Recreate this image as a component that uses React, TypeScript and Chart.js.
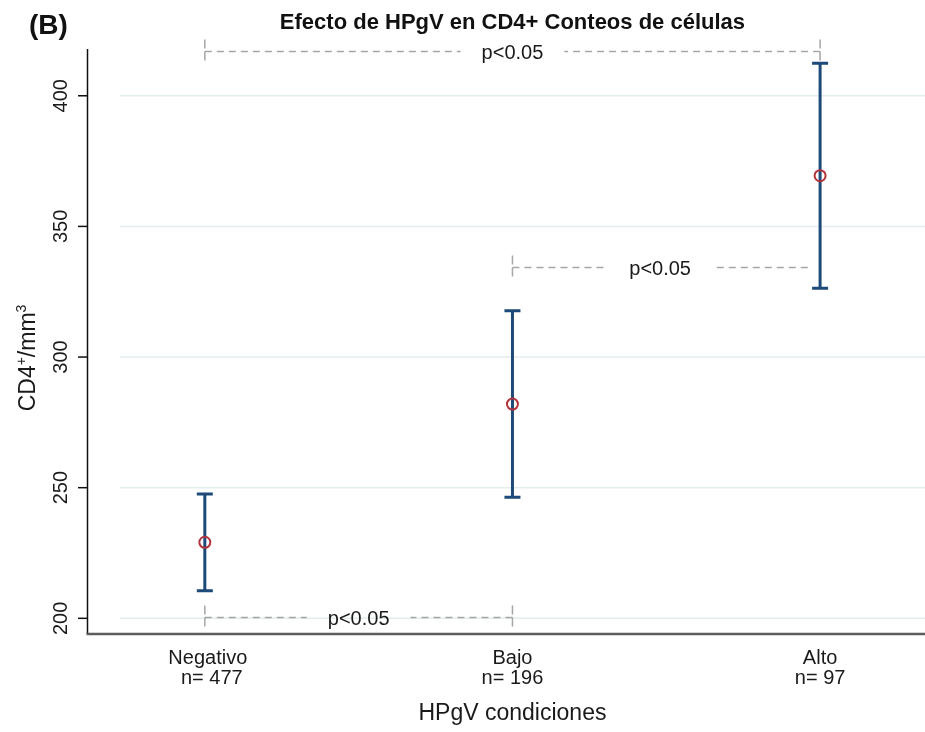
import React, { useEffect, useRef } from "react";
import { Chart, registerables } from "chart.js";

Chart.register(...registerables);

const categories = ["Negativo", "Bajo", "Alto"];
const nLabels = ["n= 477", "n= 196", "n= 97"];
const means = [229.1, 282.0, 369.4];
const lowerCI = [210.6, 246.3, 326.3];
const upperCI = [247.6, 317.7, 412.4];
const yTicks = [200, 250, 300, 350, 400];
const bracketFrom = [0, 1, 0];
const bracketTo = [2, 1.96, 1];
const bracketLevel = [417.2, 334.6, 200.6];
const bracketLabels = ["p<0.05", "p<0.05", "p<0.05"];
const bracketTickLeft = [true, true, true];
const bracketTickRight = [true, false, true];

const chartTitle = "Efecto de HPgV en CD4+ Conteos de células";
const panelLabel = "(B)";
const xTitle = "HPgV condiciones";

const FONT = "'Liberation Sans', Arial, sans-serif";
const BAR_COLOR = "#1d4a78";
const MARK_COLOR = "#b3333d";
const GRID_COLOR = "#e3edf0";
const DASH_COLOR = "#a6a6a6";

const drawPlugin = {
  id: "statadraw",
  beforeDatasetsDraw(chart: any) {
    const ctx = chart.ctx;
    const xs = chart.scales.x;
    const ys = chart.scales.y;
    const area = chart.chartArea;
    ctx.save();
    ctx.strokeStyle = GRID_COLOR;
    ctx.lineWidth = 1.5;
    yTicks.forEach((t) => {
      const y = ys.getPixelForValue(t);
      ctx.beginPath();
      ctx.moveTo(120, y);
      ctx.lineTo(area.right, y);
      ctx.stroke();
    });
    ctx.strokeStyle = BAR_COLOR;
    ctx.lineWidth = 3;
    ctx.lineCap = "butt";
    categories.forEach((_, i) => {
      const x = xs.getPixelForValue(i);
      const yl = ys.getPixelForValue(lowerCI[i]);
      const yu = ys.getPixelForValue(upperCI[i]);
      ctx.beginPath();
      ctx.moveTo(x, yl);
      ctx.lineTo(x, yu);
      ctx.stroke();
      ctx.beginPath();
      ctx.moveTo(x - 8, yl);
      ctx.lineTo(x + 8, yl);
      ctx.moveTo(x - 8, yu);
      ctx.lineTo(x + 8, yu);
      ctx.stroke();
    });
    ctx.restore();
  },
  afterDraw(chart: any) {
    const ctx = chart.ctx;
    const xs = chart.scales.x;
    const ys = chart.scales.y;
    const area = chart.chartArea;
    ctx.save();
    ctx.font = `20px ${FONT}`;
    bracketFrom.forEach((f, i) => {
      const x1 = xs.getPixelForValue(f);
      const x2 = xs.getPixelForValue(bracketTo[i]);
      const y = Math.round(ys.getPixelForValue(bracketLevel[i])) + 0.5;
      const cx = (x1 + x2) / 2;
      const tw = ctx.measureText(bracketLabels[i]).width;
      const gapL = cx - tw / 2 - 21;
      const gapR = cx + tw / 2 + 21;
      ctx.strokeStyle = DASH_COLOR;
      ctx.lineWidth = 1.5;
      ctx.setLineDash([7, 5]);
      ctx.beginPath();
      ctx.moveTo(x1, y);
      ctx.lineTo(gapL, y);
      ctx.moveTo(x2, y);
      ctx.lineTo(gapR, y);
      ctx.stroke();
      ctx.setLineDash([9, 3]);
      ctx.beginPath();
      if (bracketTickLeft[i]) {
        ctx.moveTo(x1, y - 12);
        ctx.lineTo(x1, y + 12);
      }
      if (bracketTickRight[i]) {
        ctx.moveTo(x2, y - 12);
        ctx.lineTo(x2, y + 12);
      }
      ctx.stroke();
      ctx.setLineDash([]);
      ctx.fillStyle = "#1a1a1a";
      ctx.textAlign = "center";
      ctx.textBaseline = "alphabetic";
      ctx.fillText(bracketLabels[i], cx, y + 7);
    });

    ctx.strokeStyle = "#111";
    ctx.lineWidth = 1.5;
    ctx.beginPath();
    ctx.moveTo(87.5, area.top);
    ctx.lineTo(87.5, area.bottom);
    ctx.stroke();
    yTicks.forEach((t) => {
      const y = ys.getPixelForValue(t);
      ctx.beginPath();
      ctx.moveTo(78, y);
      ctx.lineTo(87.5, y);
      ctx.stroke();
      ctx.save();
      ctx.translate(67, y);
      ctx.rotate(-Math.PI / 2);
      ctx.font = `20px ${FONT}`;
      ctx.fillStyle = "#1a1a1a";
      ctx.textAlign = "center";
      ctx.textBaseline = "alphabetic";
      ctx.fillText(String(t), 0, 0);
      ctx.restore();
    });
    ctx.strokeStyle = "#5c5c5c";
    ctx.lineWidth = 2.5;
    ctx.beginPath();
    ctx.moveTo(86.5, area.bottom);
    ctx.lineTo(area.right, area.bottom);
    ctx.stroke();
    ctx.fillStyle = "#1a1a1a";
    ctx.font = `20px ${FONT}`;
    ctx.textAlign = "center";
    categories.forEach((c, i) => {
      const x = xs.getPixelForValue(i);
      ctx.fillText(c, x + (i === 0 ? 3 : 0), 664);
      ctx.fillText(nLabels[i], x + (i === 0 ? 7 : 0), 684);
    });
    ctx.font = `23px ${FONT}`;
    ctx.fillText(xTitle, xs.getPixelForValue(1), 720);
    ctx.save();
    ctx.translate(35, 358);
    ctx.rotate(-Math.PI / 2);
    const parts: [string, boolean][] = [["CD4", false], ["+", true], ["/mm", false], ["3", true]];
    const widths = parts.map(([s, sup]) => {
      ctx.font = sup ? `14px ${FONT}` : `23px ${FONT}`;
      return ctx.measureText(s).width;
    });
    const total = widths.reduce((a, b) => a + b, 0);
    let px = -total / 2;
    ctx.textAlign = "left";
    parts.forEach(([s, sup], k) => {
      ctx.font = sup ? `14px ${FONT}` : `23px ${FONT}`;
      ctx.fillText(s, px, sup ? -9 : 0);
      px += widths[k];
    });
    ctx.restore();
    ctx.font = `bold 22px ${FONT}`;
    ctx.textAlign = "center";
    ctx.fillStyle = "#111";
    ctx.fillText(chartTitle, xs.getPixelForValue(1), 29);
    ctx.font = `bold 28px ${FONT}`;
    ctx.textAlign = "left";
    ctx.fillText(panelLabel, 29, 34);
    ctx.restore();
  },
};

export default function App() {
  const ref = useRef<HTMLCanvasElement | null>(null);
  useEffect(() => {
    const canvas = ref.current;
    if (!canvas) return;
    const chart = new Chart(canvas, {
      type: "scatter",
      data: {
        datasets: [
          {
            data: means.map((m, i) => ({ x: i, y: m })),
            pointStyle: "circle",
            pointRadius: 5.5,
            pointBorderWidth: 2,
            pointBorderColor: MARK_COLOR,
            pointBackgroundColor: "rgba(0,0,0,0)",
            showLine: false,
          },
        ],
      },
      options: {
        animation: false,
        responsive: true,
        maintainAspectRatio: false,
        devicePixelRatio: 1,
        events: [],
        layout: { autoPadding: false, padding: { left: 87, top: 49, right: 0, bottom: 98 } },
        plugins: { legend: { display: false }, tooltip: { enabled: false }, title: { display: false } },
        scales: {
          x: { type: "linear", display: false, min: -0.383, max: 2.341 },
          y: { type: "linear", display: false, min: 194.0, max: 417.9 },
        },
      },
      plugins: [drawPlugin],
    });
    return () => chart.destroy();
  }, []);
  return (
    <div style={{ position: "absolute", left: 0, top: 0, width: 925, height: 732, background: "#fff" }}>
      <canvas ref={ref} style={{ display: "block" }} />
    </div>
  );
}
